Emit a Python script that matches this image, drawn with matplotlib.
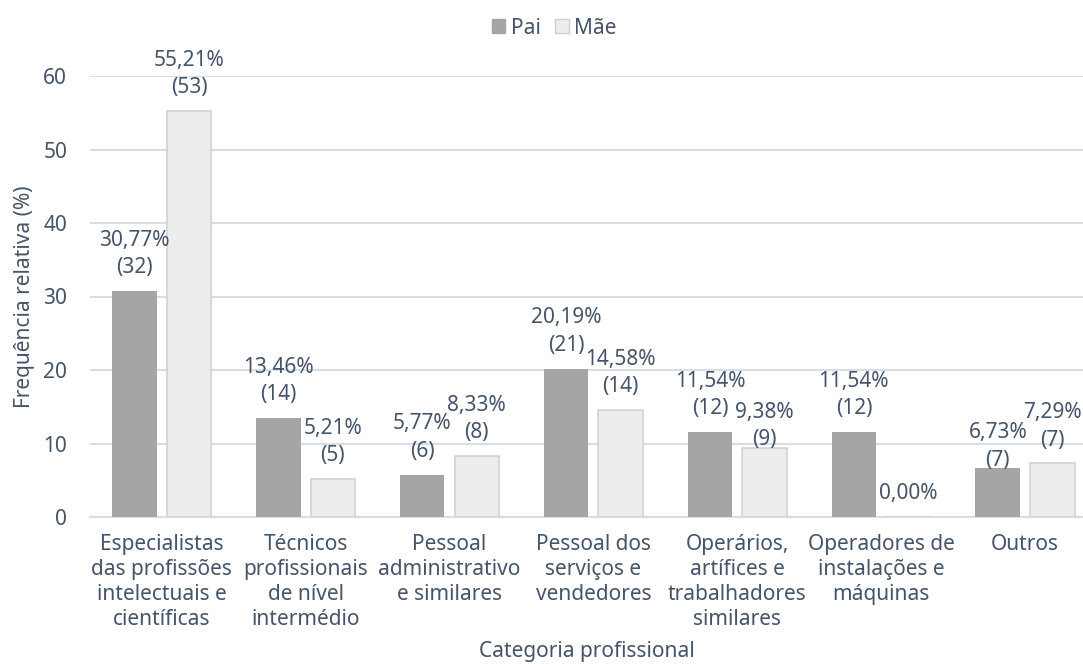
"""
Frequência relativa da categoria profissional do pai e da mãe.
Barras agrupadas (Pai / Mãe) com rótulos "percentagem (n)".
"""

import matplotlib
matplotlib.use("Agg")
import matplotlib.pyplot as plt
from matplotlib.patches import Patch
import numpy as np

# --- dados ---------------------------------------------------------------
categorias = [
    "Especialistas\ndas profissões\nintelectuais e\ncientíficas",
    "Técnicos\nprofissionais\nde nível\nintermédio",
    "Pessoal\nadministrativo\ne similares",
    "Pessoal dos\nserviços e\nvendedores",
    "Operários,\nartífices e\ntrabalhadores\nsimilares",
    "Operadores de\ninstalações e\nmáquinas",
    "Outros",
]
pai_pct = [30.77, 13.46, 5.77, 20.19, 11.54, 11.54, 6.73]
pai_n = [32, 14, 6, 21, 12, 12, 7]
mae_pct = [55.21, 5.21, 8.33, 14.58, 9.38, 0.00, 7.29]
mae_n = [53, 5, 8, 14, 9, 0, 7]
y_ticks = [0, 10, 20, 30, 40, 50, 60]

# deslocamento manual (pixels) de alguns rótulos, como no original
desloc_pai = [0, 0, 0, 0, 0, 0, -16]
desloc_mae = [0, 0, 0, 0, -15, 0, 0]

# --- estilo --------------------------------------------------------------
COR_TEXTO = "#44546a"
COR_GRELHA = "#d9dde4"
COR_PAI = "#a5a5a5"
COR_MAE = "#ededed"
COR_BORDA_MAE = "#cfcfcf"
FONTE = 15

plt.rcParams["font.family"] = ["Noto Sans", "DejaVu Sans"]
plt.rcParams["font.size"] = FONTE
plt.rcParams["text.color"] = COR_TEXTO


def rotulo(pct, n):
    txt = f"{pct:.2f}".replace(".", ",") + "%"
    if n > 0:
        txt += f"\n({n})"
    return txt


fig = plt.figure(figsize=(10.83, 6.64), dpi=100)
ax = fig.add_axes([90 / 1083, 1 - 517 / 664, 1 - 90 / 1083, (517 - 76) / 664])

x = np.arange(len(categorias))
largura = 0.31
desvio = 0.19

ax.bar(x - desvio, pai_pct, largura, color=COR_PAI, zorder=3)
ax.bar(x + desvio, mae_pct, largura, color=COR_MAE, edgecolor=COR_BORDA_MAE,
       linewidth=1.1, zorder=3)

for xi, (p, n, d) in enumerate(zip(pai_pct, pai_n, desloc_pai)):
    dy = (37 if n > 0 else 24) + d
    ax.annotate(rotulo(p, n), xy=(xi - desvio, p), xytext=(0, dy),
                textcoords="offset pixels", ha="center", va="center",
                color=COR_TEXTO, fontsize=FONTE, linespacing=1.4, zorder=4)
for xi, (p, n, d) in enumerate(zip(mae_pct, mae_n, desloc_mae)):
    dy = (37 if n > 0 else 24) + d
    ax.annotate(rotulo(p, n), xy=(xi + desvio, p), xytext=(0, dy),
                textcoords="offset pixels", ha="center", va="center",
                color=COR_TEXTO, fontsize=FONTE, linespacing=1.4, zorder=4)

ax.set_ylim(0, 60)
ax.set_xlim(-0.498, 6.402)
ax.set_yticks(y_ticks)
ax.set_xticks(x)
ax.set_xticklabels(categorias, linespacing=1.25, multialignment="center")
ax.tick_params(axis="both", length=0, colors=COR_TEXTO, labelsize=FONTE)
ax.tick_params(axis="y", pad=16.5)
ax.tick_params(axis="x", pad=12)

ax.grid(axis="y", color=COR_GRELHA, linewidth=1.5, zorder=0)
ax.set_axisbelow(True)
for lado in ["top", "right", "left"]:
    ax.spines[lado].set_visible(False)
ax.spines["bottom"].set_color(COR_GRELHA)
ax.spines["bottom"].set_linewidth(1.5)

ax.set_xlabel("Categoria profissional", color=COR_TEXTO, fontsize=FONTE, labelpad=8)
ax.set_ylabel("Frequência relativa (%)", color=COR_TEXTO, fontsize=FONTE, labelpad=6)

handles = [
    Patch(facecolor=COR_PAI, edgecolor=COR_PAI, label="Pai"),
    Patch(facecolor=COR_MAE, edgecolor=COR_BORDA_MAE, label="Mãe"),
]
fig.legend(handles=handles, loc="center", bbox_to_anchor=(554 / 1083, 1 - 28 / 664),
           ncol=2, frameon=False, handlelength=0.65, handleheight=0.65,
           handletextpad=0.25, columnspacing=0.7, fontsize=FONTE,
           labelcolor=COR_TEXTO)

fig.savefig("out.png", dpi=100)
